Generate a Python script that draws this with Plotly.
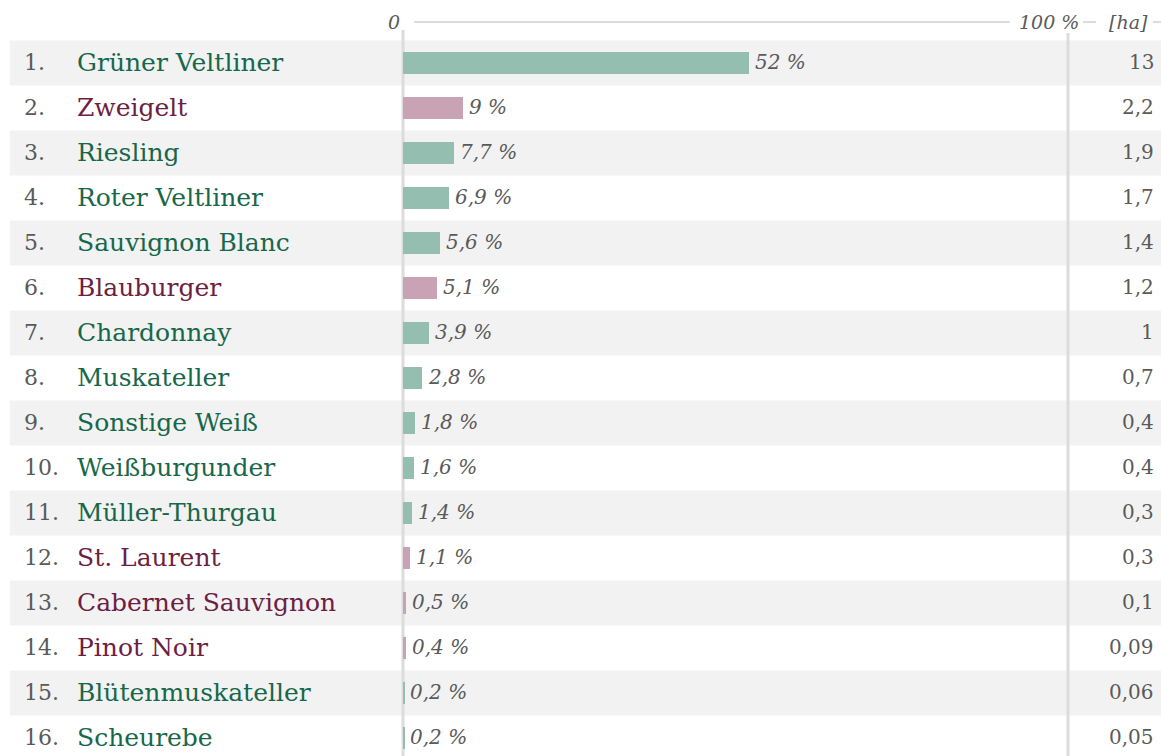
import plotly.graph_objects as go

ranks = list(range(1, 17))
varieties = ["Grüner Veltliner", "Zweigelt", "Riesling", "Roter Veltliner", "Sauvignon Blanc",
             "Blauburger", "Chardonnay", "Muskateller", "Sonstige Weiß", "Weißburgunder",
             "Müller-Thurgau", "St. Laurent", "Cabernet Sauvignon", "Pinot Noir",
             "Blütenmuskateller", "Scheurebe"]
wine_type = ["w", "r", "w", "w", "w", "r", "w", "w", "w", "w", "w", "r", "r", "r", "w", "w"]
share_pct = [52, 9, 7.7, 6.9, 5.6, 5.1, 3.9, 2.8, 1.8, 1.6, 1.4, 1.1, 0.5, 0.4, 0.2, 0.2]
area_ha = [13, 2.2, 1.9, 1.7, 1.4, 1.2, 1, 0.7, 0.4, 0.4, 0.3, 0.3, 0.1, 0.09, 0.06, 0.05]

BAR_COL = {"w": "#94bfb0", "r": "#c9a3b4"}
TXT_COL = {"w": "#17684a", "r": "#6e1e42"}
GREY = "#5a5a5a"
FONT = "DejaVu Serif"

W, H = 1161, 756
X0_PX, X100_PX = 403, 1068
scale = (X100_PX - X0_PX) / 100.0
x_range = [-X0_PX / scale, (W - X0_PX) / scale]
ROW0_PX, ROW_H = 63, 45
y_top = 1 - ROW0_PX / ROW_H
y_bot = 1 + (H - ROW0_PX) / ROW_H

def fmt(v):
    return ("%g" % v).replace(".", ",")

fig = go.Figure()
fig.add_trace(go.Bar(
    x=share_pct, y=ranks, orientation="h",
    marker=dict(color=[BAR_COL[t] for t in wine_type], line=dict(width=0)),
    width=0.49, hoverinfo="skip",
))

shapes = []
for r in ranks:
    if r % 2 == 1:
        shapes.append(dict(type="rect", xref="paper", yref="y", x0=10 / W, x1=1,
                           y0=r - 0.5, y1=r + 0.5, fillcolor="#f2f2f2",
                           line=dict(width=0), layer="below"))
shapes.append(dict(type="line", xref="x", yref="paper", x0=0, x1=0,
                   y0=0, y1=1 - 30 / H, line=dict(color="#dcdcdc", width=3), layer="below"))
shapes.append(dict(type="line", xref="x", yref="paper", x0=100, x1=100,
                   y0=0, y1=1 - 33 / H, line=dict(color="#dcdcdc", width=3), layer="below"))
hy = 1 - 22 / H
for a, b in [(414, 1010), (1083, 1096), (1153, 1161)]:
    shapes.append(dict(type="line", xref="paper", yref="paper", x0=a / W, x1=b / W,
                       y0=hy, y1=hy, line=dict(color="#dcdcdc", width=2)))

HDR = dict(family=FONT, size=19, color=GREY, style="italic")
ann = []
ann.append(dict(x=0, y=hy, xref="x", yref="paper", text="0", showarrow=False,
                xanchor="right", xshift=-1, yanchor="middle", font=HDR))
ann.append(dict(x=1081 / W, y=hy, xref="paper", yref="paper", text="100 %", showarrow=False,
                xanchor="right", yanchor="middle", font=HDR))
ann.append(dict(x=1150 / W, y=hy, xref="paper", yref="paper", text="[ha]", showarrow=False,
                xanchor="right", yanchor="middle", font=HDR))

for r, name, t, p, ha in zip(ranks, varieties, wine_type, share_pct, area_ha):
    ann.append(dict(x=22 / W, y=r, xref="paper", yref="y", text=f"{r}.", showarrow=False,
                    xanchor="left", yanchor="middle", yshift=1,
                    font=dict(family=FONT, size=22, color=GREY)))
    ann.append(dict(x=75 / W, y=r, xref="paper", yref="y", text=name, showarrow=False,
                    xanchor="left", yanchor="middle", yshift=1,
                    font=dict(family=FONT, size=25, color=TXT_COL[t])))
    ann.append(dict(x=p, y=r, xref="x", yref="y", text=f"{fmt(p)} %", showarrow=False,
                    xanchor="left", xshift=4, yanchor="middle", yshift=1,
                    font=dict(family=FONT, size=20, color=GREY, style="italic")))
    ann.append(dict(x=1156 / W, y=r, xref="paper", yref="y", text=fmt(ha), showarrow=False,
                    xanchor="right", yanchor="middle", yshift=1,
                    font=dict(family=FONT, size=20, color=GREY)))

fig.update_layout(
    width=W, height=H, margin=dict(l=0, r=0, t=0, b=0),
    paper_bgcolor="white", plot_bgcolor="white",
    showlegend=False, shapes=shapes, annotations=ann,
    xaxis=dict(range=x_range, visible=False, fixedrange=True),
    yaxis=dict(range=[y_bot, y_top], visible=False, fixedrange=True),
    bargap=0,
)
fig.write_html("out.html", config=dict(displayModeBar=False),
               post_script="document.body.style.margin='0';document.body.style.overflow='hidden';")
